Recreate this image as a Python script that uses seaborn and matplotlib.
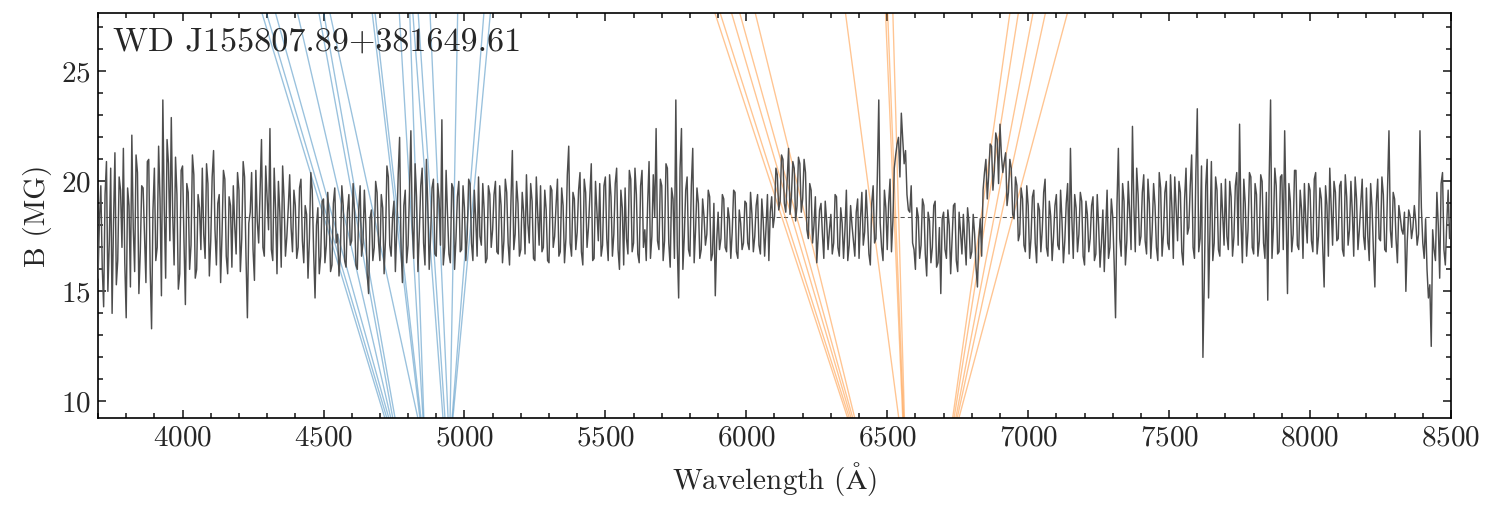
import numpy as np
import pandas as pd
import matplotlib
matplotlib.use("Agg")
import matplotlib.pyplot as plt
import seaborn as sns
from matplotlib.ticker import MultipleLocator

# espectro (flujo escalado a la escala de B), rejilla de 10 A desde 3700 hasta 8500
WAVE_MIN, WAVE_MAX, WAVE_STEP = 3700, 8500, 10
FLUX = [
    15.6, 19.8, 14.3, 20.9, 17.2, 14.0, 21.3, 16.4, 19.6, 21.5,
    13.8, 18.9, 22.1, 15.9, 20.4, 16.8, 19.7, 15.4, 21.0, 13.3,
    20.6, 17.0, 19.2, 23.7, 15.6, 20.8, 22.9, 16.2, 19.4, 15.8,
    20.7, 14.4, 19.5, 17.1, 20.3, 16.0, 18.8, 20.6, 16.5, 19.9,
    17.3, 21.4, 16.2, 19.4, 17.6, 20.1, 15.8, 18.9, 19.8, 16.7,
    19.6, 17.4, 20.2, 13.8, 18.6, 16.9, 20.5, 17.2, 21.9, 16.6,
    19.3, 22.4, 16.4, 18.7, 20.0, 16.1, 19.2, 17.5, 20.3, 16.8,
    18.9, 17.0, 20.1, 16.3, 18.5, 17.4, 19.6, 14.7, 18.8, 16.6,
    19.2, 17.1, 18.4, 16.2, 19.7, 17.6, 16.8, 18.9, 16.1, 19.4,
    17.3, 18.6, 16.0, 19.8, 17.2, 18.1, 14.9, 18.7, 17.0, 19.5,
    16.4, 18.8, 17.4, 20.2, 16.6, 19.1, 17.8, 22.0, 15.4, 19.6,
    17.1, 22.3, 16.5, 19.3, 17.7, 20.6, 16.2, 18.9, 17.5, 20.1,
    16.6, 19.2, 22.8, 17.0, 18.5, 16.3, 19.7, 17.4, 20.0, 16.9,
    18.8, 17.6, 19.9, 16.4, 18.3, 20.2, 17.1, 18.7, 16.5, 19.4,
    17.8, 20.0, 16.7, 18.9, 17.3, 19.5, 16.2, 21.4, 17.6, 19.0,
    16.9, 18.6, 20.3, 17.2, 19.1, 16.4, 18.5, 19.8, 17.0, 18.7,
    16.3, 19.6, 17.5, 20.1, 16.8, 18.9, 17.4, 21.6, 16.6, 19.2,
    17.7, 20.4, 16.2, 19.5, 17.9, 20.8, 16.5, 18.6, 19.9, 17.1,
    20.2, 16.4, 19.3, 17.6, 20.6, 16.0, 18.8, 19.7, 16.7, 20.1,
    17.2, 19.4, 16.3, 20.5, 17.8, 19.0, 16.5, 20.3, 22.4, 16.9,
    19.8, 17.3, 20.6, 16.1, 19.2, 23.7, 14.7, 22.4, 17.5, 20.2,
    16.6, 21.5, 17.8, 19.0, 16.9, 18.4, 17.6, 19.3, 16.7, 14.8,
    18.6, 17.4, 19.2, 16.8, 18.3, 17.7, 19.5, 16.5, 18.1, 17.2,
    19.0, 16.9, 18.5, 17.5, 19.4, 16.7, 18.2, 17.9, 16.4, 19.3,
    18.4, 20.3, 19.1, 21.0, 18.6, 21.5, 19.3, 20.6, 18.9, 20.8,
    19.2, 20.4, 17.4, 19.6, 18.0, 16.3, 18.7, 17.6, 19.1, 16.9,
    18.5, 17.2, 19.3, 16.6, 18.1, 17.8, 16.4, 18.9, 17.3, 18.6,
    16.5, 19.5, 17.7, 18.3, 16.2, 19.8, 17.4, 23.7, 17.0, 19.6,
    16.9, 20.1, 18.2, 21.2, 22.0, 23.1, 20.8, 19.4, 18.6, 17.2,
    16.0, 18.4, 17.1, 18.9, 15.7, 18.2, 17.0, 19.1, 16.3, 14.9,
    18.6, 16.5, 18.0, 17.3, 19.0, 15.9, 17.7, 18.5, 16.2, 18.1,
    16.8, 17.6, 15.2, 18.3, 19.6, 21.0, 20.3, 21.6, 20.5, 21.9,
    22.6, 20.4, 21.3, 19.5, 20.6, 18.3, 19.8, 17.6, 19.2, 16.8,
    18.9, 17.4, 19.6, 16.3, 18.7, 17.8, 20.1, 16.6, 18.4, 17.5,
    19.4, 16.9, 18.2, 17.3, 19.9, 21.5, 16.5, 18.8, 17.6, 19.1,
    16.2, 18.5, 17.4, 19.3, 16.7, 18.0, 17.2, 15.9, 19.6, 17.0,
    18.4, 13.8, 21.5, 16.6, 19.1, 17.3, 18.6, 22.5, 16.8, 19.4,
    17.5, 20.3, 16.7, 19.0, 17.8, 18.9, 16.4, 19.7, 17.6, 20.0,
    16.9, 18.8, 20.2, 17.3, 19.5, 16.2, 20.6, 17.9, 21.2, 16.5,
    23.3, 17.4, 12.0, 19.8, 14.7, 20.9, 17.2, 19.6, 16.6, 18.5,
    20.1, 16.9, 19.3, 17.5, 20.4, 22.6, 16.3, 19.0, 17.8, 20.2,
    16.7, 19.4, 17.3, 20.0, 16.5, 14.6, 23.7, 17.9, 19.8, 16.8,
    20.3, 22.3, 14.9, 19.1, 17.6, 20.5, 16.9, 18.7, 19.9, 17.2,
    19.6, 16.8, 20.4, 17.5, 19.2, 15.2, 18.9, 20.6, 17.1, 19.5,
    17.4, 20.0, 16.6, 19.3, 17.8, 18.6, 20.2, 16.9, 19.0, 17.5,
    19.7, 16.4, 18.8, 15.2, 20.1, 17.3, 19.4, 16.8, 22.3, 17.0,
    19.2, 16.3, 18.4, 17.6, 15.0, 18.7, 17.4, 18.9, 17.1, 22.3,
    17.2, 18.3, 14.7, 12.5, 16.9, 19.5, 15.6, 20.4, 16.2, 19.6,
    18.3,
]

# valores intermedios, en 3705, 3715, ..., 8495 A
FLUX_MID = [
    18.2, 16.1, 19.4, 15.0, 20.6, 18.1, 15.3, 20.2, 17.0, 16.3,
    19.7, 15.2, 17.9, 21.2, 14.9, 19.8, 17.5, 20.9, 16.1, 18.7,
    16.4, 21.6, 14.8, 18.8, 21.9, 17.3, 18.5, 21.1, 15.1, 20.5,
    17.3, 19.9, 16.0, 21.2, 15.6, 19.4, 16.9, 17.6, 20.8, 15.7,
    20.2, 17.8, 19.0, 15.4, 20.5, 16.6, 19.3, 16.1, 18.0, 20.4,
    15.9, 20.9, 16.6, 18.1, 20.4, 15.5, 18.2, 19.6, 17.0, 20.7,
    17.8, 16.9, 20.6, 15.8, 18.6, 20.7, 16.6, 18.8, 17.9, 19.6,
    16.5, 19.7, 17.3, 18.9, 15.6, 20.4, 16.8, 18.0, 15.8, 19.1,
    16.3, 19.5, 15.9, 19.0, 17.2, 15.7, 19.8, 16.4, 18.6, 17.1,
    19.9, 16.2, 18.7, 16.6, 19.6, 15.8, 18.3, 16.4, 20.0, 17.3,
    19.4, 15.8, 20.7, 17.1, 18.4, 15.9, 20.3, 17.0, 18.9, 16.3,
    19.5, 18.0, 20.8, 15.9, 19.8, 17.2, 21.0, 16.0, 19.7, 16.7,
    19.9, 17.1, 16.2, 20.5, 16.7, 19.9, 16.0, 19.3, 16.8, 19.8,
    16.4, 20.1, 17.2, 19.6, 16.6, 17.5, 19.9, 16.3, 19.8, 17.0,
    19.4, 16.8, 19.8, 16.3, 20.1, 17.2, 19.1, 16.9, 20.0, 16.6,
    19.5, 16.7, 18.1, 19.9, 16.5, 20.2, 17.1, 16.8, 19.6, 16.4,
    19.8, 17.0, 18.9, 16.6, 19.7, 16.3, 20.3, 17.2, 19.5, 16.9,
    19.6, 16.8, 20.1, 17.0, 19.3, 16.4, 20.0, 17.3, 16.6, 19.8,
    17.4, 20.3, 16.6, 19.9, 16.9, 19.6, 16.2, 17.4, 20.5, 16.8,
    20.6, 16.7, 19.8, 17.0, 16.4, 20.9, 17.5, 18.4, 17.3, 20.1,
    16.4, 20.8, 17.2, 19.7, 16.5, 17.1, 20.6, 16.0, 19.6, 16.9,
    19.8, 16.3, 19.7, 16.5, 19.2, 17.1, 19.6, 16.4, 19.0, 17.3,
    16.9, 19.4, 17.0, 18.8, 16.5, 19.6, 16.8, 18.7, 16.9, 19.1,
    17.2, 19.5, 16.8, 18.9, 17.1, 19.2, 16.6, 19.4, 18.6, 17.9,
    20.6, 18.7, 21.2, 19.0, 20.1, 18.5, 20.9, 18.2, 21.1, 18.6,
    21.0, 17.8, 19.9, 17.2, 19.3, 17.5, 19.0, 16.5, 18.2, 17.8,
    16.7, 19.4, 17.0, 18.8, 16.5, 19.6, 17.1, 18.0, 16.6, 19.2,
    18.3, 17.1, 19.6, 16.7, 19.0, 17.2, 20.3, 18.1, 16.4, 18.8,
    19.0, 16.8, 20.6, 21.7, 20.2, 21.9, 21.4, 18.7, 19.8, 16.9,
    18.8, 16.5, 19.2, 16.7, 18.6, 16.3, 18.9, 16.1, 17.9, 18.3,
    16.9, 18.7, 15.8, 18.9, 16.4, 18.6, 16.7, 17.3, 18.8, 16.5,
    18.5, 16.1, 17.4, 16.6, 20.4, 19.2, 21.7, 19.6, 22.2, 19.9,
    21.2, 20.9, 18.9, 21.0, 18.5, 20.2, 17.3, 19.7, 17.1, 19.8,
    16.5, 19.3, 17.2, 19.0, 16.8, 19.5, 17.0, 19.1, 16.4, 18.9,
    17.1, 19.6, 16.3, 19.0, 16.7, 18.3, 19.4, 16.8, 19.5, 16.6,
    19.1, 16.8, 18.9, 16.4, 19.4, 16.1, 18.7, 17.8, 16.5, 19.2,
    16.3, 18.9, 17.4, 19.9, 16.2, 20.0, 16.9, 18.9, 20.6, 17.1,
    19.5, 17.3, 20.1, 16.5, 19.9, 17.0, 20.4, 16.6, 19.5, 17.2,
    20.3, 16.5, 18.7, 20.0, 16.8, 19.2, 17.6, 19.8, 17.0, 20.4,
    16.8, 20.7, 15.6, 21.0, 17.8, 16.4, 20.2, 16.9, 19.9, 17.1,
    17.5, 20.0, 16.6, 19.8, 17.1, 18.2, 20.1, 16.6, 20.4, 17.0,
    19.9, 16.6, 20.3, 17.2, 19.5, 20.1, 16.5, 20.6, 16.7, 20.2,
    16.9, 18.6, 19.9, 16.8, 20.5, 17.1, 19.6, 16.5, 18.2, 19.9,
    17.3, 20.1, 16.7, 19.7, 17.0, 19.8, 16.6, 18.9, 20.0, 17.3,
    19.8, 16.9, 20.3, 17.1, 20.0, 16.6, 19.2, 17.8, 20.1, 16.9,
    17.5, 19.9, 16.8, 19.0, 17.4, 20.2, 16.9, 19.7, 17.8, 19.5,
    17.4, 18.9, 17.8, 18.6, 17.3, 18.4, 17.9, 18.2, 17.6, 18.8,
    16.5, 16.0, 15.3, 17.8, 16.4, 18.0, 19.9, 16.9, 18.1, 17.4,
]

B_FIT = 18.4  # campo del mejor ajuste (MG)

# componentes Zeeman: longitud de onda (A) en B = 9.23 MG y en B = 27.64 MG
B_TRACK = [9.23, 27.64]
HBETA_LO = [4718, 4725, 4732, 4739, 4746, 4754, 4835, 4842, 4846,
            4853, 4856, 4924, 4931, 4942, 4949, 4956, 4959]
HBETA_HI = [4282, 4298, 4330, 4408, 4484, 4501, 4523, 4673, 4683,
            4769, 4806, 4817, 4836, 4878, 4976, 5069, 5092]
HALPHA_LO = [6360, 6366, 6372, 6378, 6385, 6541, 6555, 6558, 6561,
             6732, 6737, 6743, 6748, 6754]
HALPHA_HI = [5889, 5907.5, 5948, 5977, 6032, 6352, 6494, 6501.5, 6520,
             6935, 6965, 7017, 7061, 7139]

NAME = "WD J155807.89+381649.61"


def tracks(lo, hi, series):
    rows = []
    for i, (a, b) in enumerate(zip(lo, hi)):
        rows.append({"series": series, "comp": i, "wave": a, "B": B_TRACK[0]})
        rows.append({"series": series, "comp": i, "wave": b, "B": B_TRACK[1]})
    return rows


wave = np.arange(WAVE_MIN, WAVE_MAX + 1, WAVE_STEP)
spec = pd.concat([
    pd.DataFrame({"wave": wave, "flux": FLUX}),
    pd.DataFrame({"wave": wave[:-1] + WAVE_STEP / 2, "flux": FLUX_MID}),
]).sort_values("wave").reset_index(drop=True)
zee = pd.DataFrame(tracks(HBETA_LO, HBETA_HI, "Hb") + tracks(HALPHA_LO, HALPHA_HI, "Ha"))

sns.set_theme(style="ticks")
plt.rcParams.update({
    "font.family": "serif",
    "font.serif": ["cmr10", "DejaVu Serif"],
    "mathtext.fontset": "cm",
    "axes.formatter.use_mathtext": True,
    "axes.unicode_minus": False,
    "axes.linewidth": 0.8,
    "axes.edgecolor": "black",
})

fig = plt.figure(figsize=(9.96, 3.46), dpi=150)
ax = fig.add_axes([0.0656, 0.194, 0.9056, 0.7804])

ax.axhline(B_FIT, color="#555555", lw=0.5, ls=(0, (4, 3)), zorder=1)
sns.lineplot(data=zee, x="wave", y="B", hue="series", units="comp", estimator=None,
             sort=False, palette={"Hb": "#1f77b4", "Ha": "#ff7f0e"}, alpha=0.45,
             lw=0.65, legend=False, ax=ax, zorder=2)
sns.lineplot(data=spec, x="wave", y="flux", color="#4d4d4d", lw=0.7,
             estimator=None, ax=ax, zorder=3)

ax.set_xlim(WAVE_MIN, WAVE_MAX)
ax.set_ylim(9.23, 27.64)
ax.set_xlabel(r"Wavelength ($\mathrm{\AA}$)", fontsize=14)
ax.set_ylabel("B (MG)", fontsize=14)
ax.text(0.011, 0.965, NAME, transform=ax.transAxes, ha="left", va="top", fontsize=16.4)

ax.xaxis.set_major_locator(MultipleLocator(500))
ax.xaxis.set_minor_locator(MultipleLocator(100))
ax.yaxis.set_major_locator(MultipleLocator(5))
ax.yaxis.set_minor_locator(MultipleLocator(1))
ax.tick_params(which="both", direction="in", top=True, right=True, labelsize=14, width=0.8)
ax.tick_params(which="major", length=4)
ax.tick_params(which="minor", length=2.2)

fig.savefig("out.png", dpi=150)
